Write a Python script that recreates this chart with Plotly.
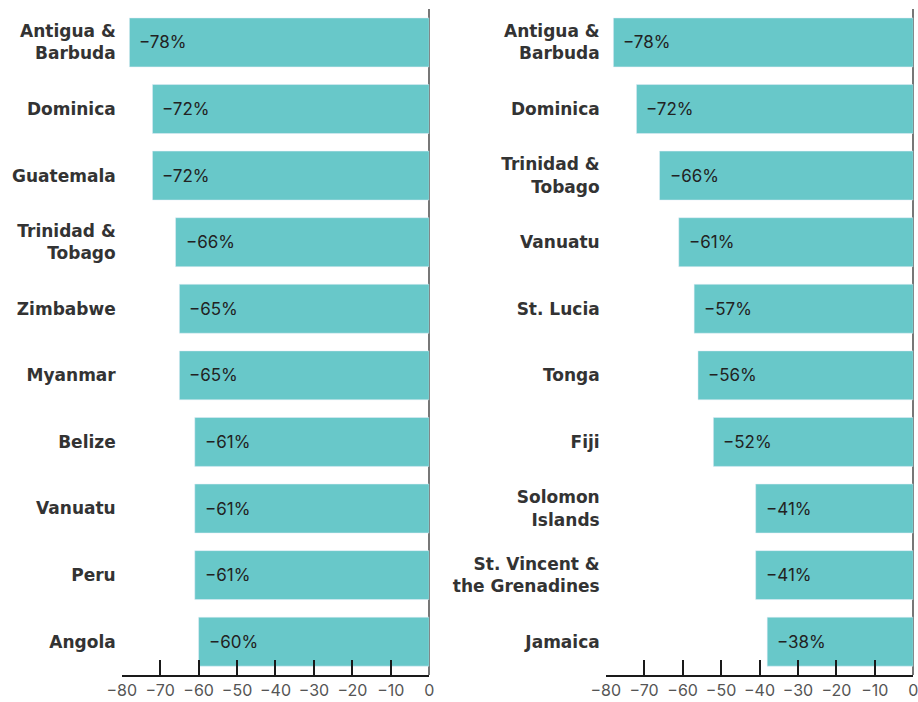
import plotly.graph_objects as go

left_countries = ["Antigua &<br>Barbuda", "Dominica", "Guatemala", "Trinidad &<br>Tobago", "Zimbabwe",
                  "Myanmar", "Belize", "Vanuatu", "Peru", "Angola"]
left_values = [-78, -72, -72, -66, -65, -65, -61, -61, -61, -60]

right_countries = ["Antigua &<br>Barbuda", "Dominica", "Trinidad &<br>Tobago", "Vanuatu", "St. Lucia",
                   "Tonga", "Fiji", "Solomon<br>Islands", "St. Vincent &<br>the Grenadines", "Jamaica"]
right_values = [-78, -72, -66, -61, -57, -56, -52, -41, -41, -38]

tick_vals = [-80, -70, -60, -50, -40, -30, -20, -10, 0]
tick_text = ["\u221280", "\u221270", "\u221260", "\u221250", "\u221240", "\u221230", "\u221220", "\u221210", "0"]

BAR = "#68c8c9"
FONT = "Inter"
LABEL_FONT = "DejaVu Sans"

fig = go.Figure()
fig.add_trace(go.Bar(x=left_values, y=left_countries, orientation="h", marker_color=BAR,
                     xaxis="x", yaxis="y", hoverinfo="skip"))
fig.add_trace(go.Bar(x=right_values, y=right_countries, orientation="h", marker_color=BAR,
                     xaxis="x2", yaxis="y2", hoverinfo="skip"))

annotations = []
for cats, vals, xr, yr in [(left_countries, left_values, "x", "y"),
                           (right_countries, right_values, "x2", "y2")]:
    for c, v in zip(cats, vals):
        annotations.append(dict(x=v, y=c, xref=xr, yref=yr, xanchor="left", yanchor="middle",
                                xshift=8, showarrow=False,
                                text=f"\u2212{abs(v)}%",
                                font=dict(family=FONT, size=17, color="#222222")))

xaxis_common = dict(range=[-80, 0], tickvals=tick_vals, ticktext=tick_text, automargin=False,
                    ticks="inside", ticklen=15, tickwidth=2, tickcolor="#1a1a1a",
                    showline=True, linecolor="#1a1a1a", linewidth=2, ticklabeloverflow="allow",
                    showgrid=False, zeroline=True, zerolinecolor="#777777", zerolinewidth=1.5,
                    tickfont=dict(family=FONT, size=16, color="#555555"), fixedrange=True)
yaxis_common = dict(autorange="reversed", showgrid=False, zeroline=False, showline=False,
                    ticks="", ticklabelstandoff=5, automargin=False, fixedrange=True,
                    tickfont=dict(family=LABEL_FONT, size=17, color="#333333", weight="bold"))

fig.update_layout(
    width=918, height=702,
    margin=dict(l=0, r=0, t=0, b=0),
    paper_bgcolor="white", plot_bgcolor="white",
    showlegend=False, bargap=0.265,
    xaxis=dict(domain=[0.1326, 0.4676], anchor="y", **xaxis_common),
    yaxis=dict(domain=[0.0385, 0.987], anchor="x", **yaxis_common),
    xaxis2=dict(domain=[0.6598, 0.9949], anchor="y2", **xaxis_common),
    yaxis2=dict(domain=[0.0385, 0.987], anchor="x2", **yaxis_common),
    annotations=annotations,
)

fig.write_html("out.html", config={"displayModeBar": False},
               post_script="document.body.style.margin='0';document.body.style.overflow='hidden';")
